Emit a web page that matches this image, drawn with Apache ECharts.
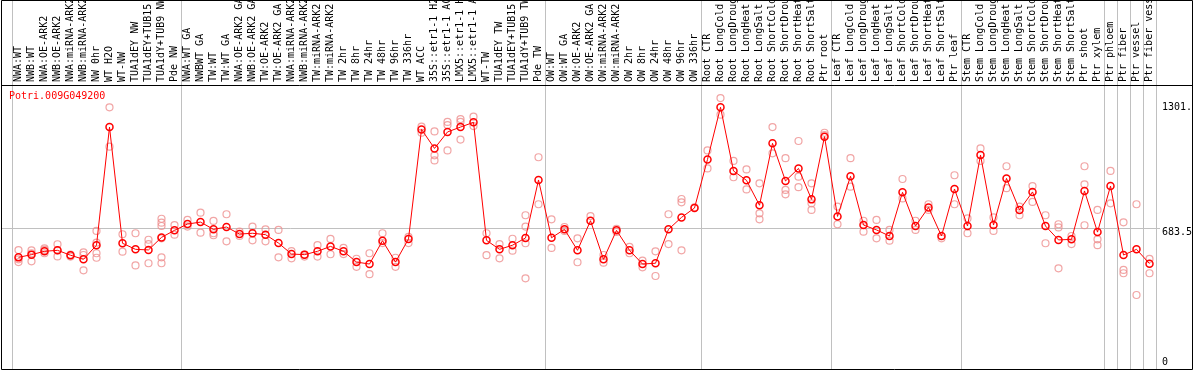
<!DOCTYPE html>
<html><head><meta charset="utf-8">
<script src="https://cdn.jsdelivr.net/npm/echarts@6/dist/echarts.min.js"></script>
<style>html,body{margin:0;padding:0;background:#fff}#c{width:1194px;height:370px}</style>
</head><body><div id="c"></div>
<script>
const categories = [
 'NWA:WT','NWB:WT','NWA:OE-ARK2','NWB:OE-ARK2','NWA:miRNA-ARK2','NWB:miRNA-ARK2','NW 0hr','WT H2O','WT-NW','TUA1dEY NW','TUA1dEY+TUB15','TUA1dY+TUB9 NW','Pde NW',
 'NWA:WT GA','NWBWT GA','TW:WT','TW:WT GA','NWA:OE-ARK2 GA','NWB:OE-ARK2 GA','TW:OE-ARK2','TW:OE-ARK2 GA','NWA:miRNA-ARK2','NWB:miRNA-ARK2','TW:miRNA-ARK2','TW:miRNA-ARK2',
 'TW 2hr','TW 8hr','TW 24hr','TW 48hr','TW 96hr','TW 336hr','WT ACC','35S::etr1-1 H2','35S::etr1-1 AC','LMX5::etr1-1 H','LMX5::etr1-1 A','WT-TW','TUA1dEY TW','TUA1dEY+TUB15','TUA1dY+TUB9 TW','Pde TW',
 'OW:WT','OW:WT GA','OW:OE-ARK2','OW:OE-ARK2 GA','OW:miRNA-ARK2','OW:miRNA-ARK2','OW 2hr','OW 8hr','OW 24hr','OW 48hr','OW 96hr','OW 336hr',
 'Root CTR','Root LongCold','Root LongDroug','Root LongHeat','Root LongSalt','Root ShortCold','Root ShortDrou','Root ShortHeat','Root ShortSalt','Ptr root',
 'Leaf CTR','Leaf LongCold','Leaf LongDroug','Leaf LongHeat','Leaf LongSalt','Leaf ShortCold','Leaf ShortDrou','Leaf ShortHeat','Leaf ShortSalt','Ptr leaf',
 'Stem CTR','Stem LongCold','Stem LongDroug','Stem LongHeat','Stem LongSalt','Stem ShortCold','Stem ShortDrou','Stem ShortHeat','Stem ShortSalt','Ptr shoot',
 'Ptr xylem','Ptr phloem','Ptr fiber','Ptr vessel','Ptr fiber vess'
];
const meanValues = [
 535,549,566,571,546,525,597,1200,607,576,573,637,673,
 705,715,678,690,654,658,651,608,552,549,566,591,
 566,511,501,620,511,629,1188,1091,1175,1200,1224,622,576,597,634,930,
 635,678,571,722,525,673,571,501,505,678,739,787,
 1035,1301,976,928,801,1117,925,989,831,1151,
 744,949,700,675,644,867,695,790,644,884,
 695,1057,700,938,777,869,695,624,627,874,
 664,899,547,576,503
];
const replicateValues = [
 [572,525,511],[571,556,515],[581,573,556],[602,571,540],[549,539],[561,547,469],[670,610,556,533],[1301,1100],[653,564],[658,494],[625,603,505],[732,712,695,632,535,505],[700,651],
 [726,692],[763,661],[721,658,648],[755,617],[666,644],[692,622],[678,617],[675,535],[567,530],[549,539],[597,539],[629,551],
 [583,552],[528,487],[556,449],[658,608],[533,487],[640,608],[1202,1171],[1178,1056,1030],[1226,1210,1081],[1241,1227,1136],[1253,1205],[658,546],[603,530],[630,569],[750,692,607,428],[1046,806],
 [729,583],[690,670],[632,510],[746],[547,508],[680,665],[589,556],[518,484],[566,440],[755,603],[833,816,571],[790],
 [1081,989],[1348,1263],[1027,944],[984,882],[913,760,729],[1200,1066],[1041,879,857],[1129,947,893],[913,811,777],[1171,1159],
 [794,704],[1041,896],[722,666],[726,632],[675,620],[935,836],[722,675],[806,777],[632],[954,806],
 [734,658],[1091,1027],[739,670],[1000,888],[794,750],[899,818],[750,607],[704,688,479],[644,603],[1000,908,699],
 [777,627,597],[976,811],[714,471,454],[806,343],[527,454]
];
const groupStarts = [0,13,41,53,63,73,84,85,86,87];
const yTickValues = [0, 683.5, 1301];
const yTickLabels = ['0','683.5','1301.'];
const refValue = 683.5;
const titleText = 'Potri.009G049200';

const repPoints = [];
replicateValues.forEach((arr, i) => arr.forEach(v => repPoints.push([i, v])));

const FONT = 'DejaVu Sans Mono';
const GRID_GRAY = '#c0c0c0';
const chart = echarts.init(document.getElementById('c'), null, {renderer: 'canvas'});
const splitFn = (idx) => groupStarts.indexOf(idx) >= 0;

chart.setOption({
  animation: false,
  backgroundColor: '#fff',
  title: {text: titleText, left: 9, top: 91, padding: 0,
    textStyle: {fontFamily: FONT, fontSize: 10, fontWeight: 'normal', color: '#ff0000'}},
  grid: [
    {left: 12, right: 38, top: 85, bottom: 1, containLabel: false, outerBoundsMode: 'none'},
    {left: 12, right: 38, top: 0, height: 85, containLabel: false, outerBoundsMode: 'none'}
  ],
  xAxis: [
    {type: 'category', gridIndex: 0, position: 'top', data: categories, boundaryGap: true,
     axisLine: {show: false}, axisTick: {show: false},
     axisLabel: {interval: 0, rotate: 90, margin: 3, hideOverlap: false, fontFamily: FONT, fontSize: 10, color: '#000'},
     splitLine: {show: true, interval: splitFn, lineStyle: {color: GRID_GRAY, width: 1}}},
    {type: 'category', gridIndex: 1, data: categories, boundaryGap: true,
     axisLine: {show: false}, axisTick: {show: false}, axisLabel: {show: false},
     splitLine: {show: true, interval: splitFn, lineStyle: {color: GRID_GRAY, width: 1}}}
  ],
  yAxis: [
    {type: 'value', gridIndex: 0, position: 'right', min: -34.7, max: 1414.7,
     axisLine: {show: false}, axisTick: {show: false}, splitLine: {show: false},
     axisLabel: {customValues: yTickValues, margin: 6, fontFamily: FONT, fontSize: 10, color: '#000',
       formatter: (v) => {
         const k = yTickValues.indexOf(v);
         const s = k >= 0 ? yTickLabels[k] : '';
         return v === refValue ? '{r|' + s + '}' : s;
       },
       rich: {r: {padding: [9, 0, 0, 0], fontFamily: FONT, fontSize: 10, color: '#000'}}}},
    {type: 'value', gridIndex: 1, show: false}
  ],
  series: [
    {type: 'scatter', xAxisIndex: 0, yAxisIndex: 0, data: repPoints, symbol: 'circle', symbolSize: 7,
     itemStyle: {color: 'rgba(0,0,0,0)', borderColor: '#ee8f8f', borderWidth: 1.2}, z: 2, silent: true},
    {type: 'line', xAxisIndex: 0, yAxisIndex: 0, data: meanValues, symbol: 'circle', symbolSize: 7, showSymbol: true,
     lineStyle: {color: '#ff0000', width: 1},
     itemStyle: {color: 'rgba(0,0,0,0)', borderColor: '#ff0000', borderWidth: 1.5}, z: 3, silent: true}
  ]
});

const refY = Math.round(chart.convertToPixel({yAxisIndex: 0}, refValue)) + 0.5;
chart.setOption({
  graphic: [
    {type: 'line', z: 1, silent: true, shape: {x1: 1, y1: refY, x2: 1160, y2: refY},
     style: {stroke: GRID_GRAY, lineWidth: 1}},
    {type: 'rect', z: 10, silent: true, shape: {x: 1.5, y: 0.5, width: 1191, height: 369},
     style: {fill: null, stroke: '#000', lineWidth: 1}},
    {type: 'line', z: 10, silent: true, shape: {x1: 1.5, y1: 85.5, x2: 1192.5, y2: 85.5},
     style: {stroke: '#000', lineWidth: 1}}
  ]
});
</script>
</body></html>
